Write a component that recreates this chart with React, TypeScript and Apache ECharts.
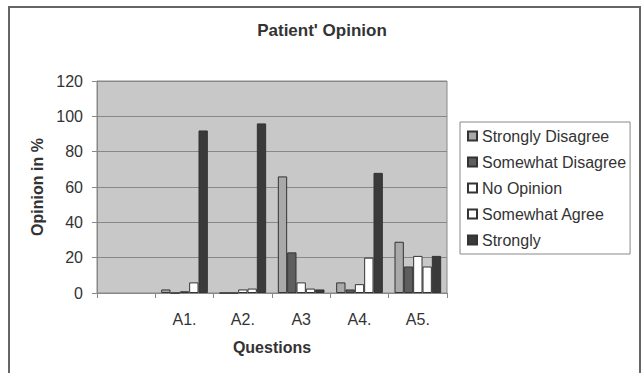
import React, { useEffect, useRef } from "react";
import * as echarts from "echarts";

const categories = ["", "A1.", "A2.", "A3", "A4.", "A5."];
const seriesNames = ["Strongly Disagree", "Somewhat Disagree", "No Opinion", "Somewhat Agree", "Strongly"];
const stronglyDisagree = [null, 2, 0, 66, 6, 29];
const somewhatDisagree = [null, 0, 0, 23, 2, 15];
const noOpinion = [null, 1, 2, 6, 5, 21];
const somewhatAgree = [null, 6, 2.5, 2.5, 20, 15];
const strongly = [null, 92, 96, 2, 68, 21];
const yTicks = { min: 0, max: 120, interval: 20 };

const colors = ["#a9a9a9", "#5e5e5e", "#ffffff", "#ffffff", "#3a3a3a"];
const FONT = "'Liberation Sans', Arial, sans-serif";

export default function App() {
  const ref = useRef<HTMLDivElement>(null);
  useEffect(() => {
    if (!ref.current) return;
    const chart = echarts.init(ref.current, null, { renderer: "svg" });
    const values = [stronglyDisagree, somewhatDisagree, noOpinion, somewhatAgree, strongly];
    chart.setOption({
      animation: false,
      backgroundColor: "#ffffff",
      textStyle: { fontFamily: FONT },
      title: {
        text: "Patient' Opinion",
        left: "center",
        top: 22,
        padding: 0,
        textStyle: { fontFamily: FONT, fontSize: 17, fontWeight: "bold", color: "#333" },
      },
      legend: {
        orient: "vertical",
        left: 460,
        top: 122,
        padding: [6, 4, 6, 7],
        itemGap: 10,
        itemWidth: 9,
        itemHeight: 9,
        icon: "rect",
        backgroundColor: "#ffffff",
        borderColor: "#888",
        borderWidth: 1,
        borderRadius: 0,
        textStyle: { fontFamily: FONT, fontSize: 16, color: "#333", padding: [0, 0, 0, 0] },
        data: seriesNames,
      },
      grid: {
        left: 97,
        right: 197,
        top: 81,
        bottom: 80,
        show: true,
        backgroundColor: "#c8c8c8",
        borderColor: "#888",
        borderWidth: 1,
      },
      xAxis: {
        type: "category",
        data: categories,
        name: "Questions",
        nameLocation: "middle",
        nameGap: 46,
        nameTextStyle: { fontFamily: FONT, fontSize: 16, fontWeight: "bold", color: "#333" },
        axisLine: { show: true, lineStyle: { color: "#888", width: 1 } },
        axisTick: { show: true, length: 5, lineStyle: { color: "#888" } },
        axisLabel: { fontFamily: FONT, fontSize: 16, color: "#333", margin: 18 },
        splitLine: { show: false },
      },
      yAxis: {
        type: "value",
        min: yTicks.min,
        max: yTicks.max,
        interval: yTicks.interval,
        name: "Opinion in %",
        nameLocation: "middle",
        nameGap: 52,
        nameRotate: 90,
        nameTextStyle: { fontFamily: FONT, fontSize: 16, fontWeight: "bold", color: "#333" },
        axisLine: { show: true, lineStyle: { color: "#888", width: 1 } },
        axisTick: { show: true, length: 5, lineStyle: { color: "#888" } },
        axisLabel: { fontFamily: FONT, fontSize: 16, color: "#333", margin: 14 },
        splitLine: { show: true, lineStyle: { color: "#888", width: 1 } },
      },
      series: seriesNames.map((name, i) => ({
        name,
        type: "bar",
        data: values[i],
        barGap: "0%",
        barCategoryGap: "20%",
        itemStyle: { color: colors[i], borderColor: "#333", borderWidth: 1 },
      })),
      graphic: [
        {
          type: "rect",
          shape: { x: 9, y: 7, width: 631, height: 380 },
          style: { fill: "none", stroke: "#666", lineWidth: 2 },
          silent: true,
        },
      ],
    });
    return () => chart.dispose();
  }, []);
  return <div ref={ref} style={{ position: "fixed", left: 0, top: 0, width: 644, height: 373 }} />;
}
